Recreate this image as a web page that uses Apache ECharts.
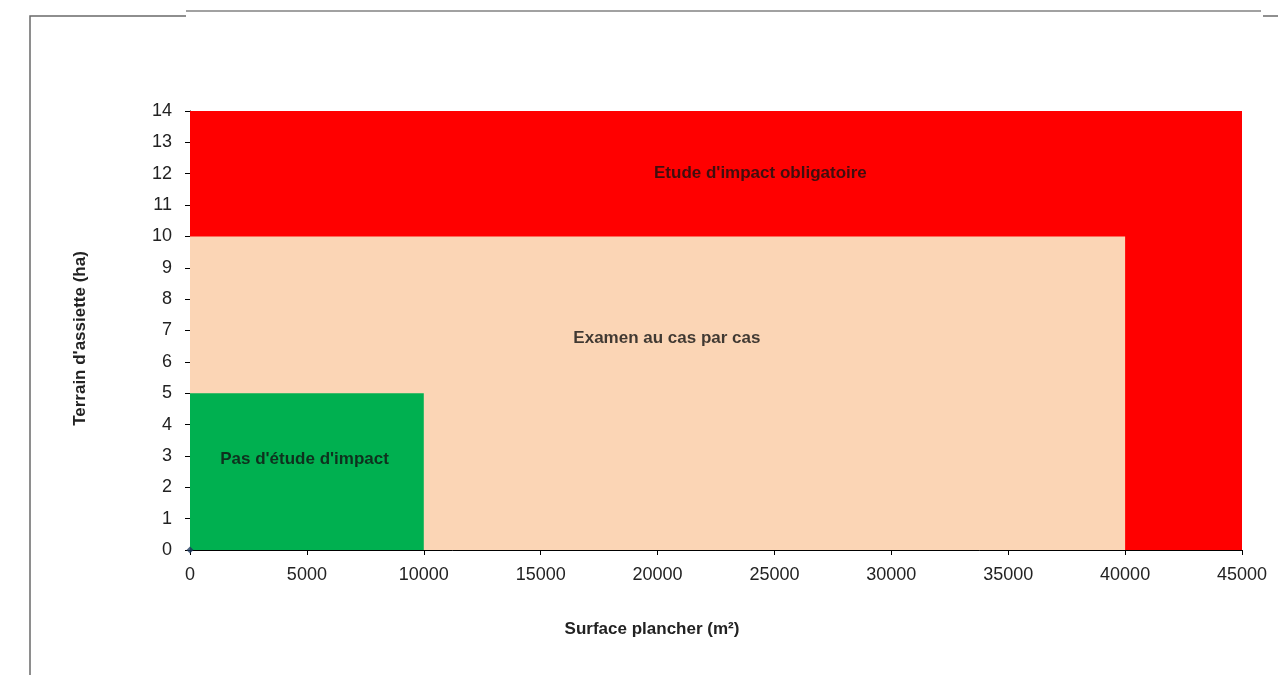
<!DOCTYPE html>
<html>
<head>
<meta charset="utf-8">
<script src="https://cdn.jsdelivr.net/npm/echarts@6/dist/echarts.min.js"></script>
<style>
  html, body { margin: 0; padding: 0; background: #ffffff; }
  #chart { width: 1278px; height: 675px; }
</style>
</head>
<body>
<div id="chart"></div>
<script>
// Zones: [surface min, surface max, terrain min, terrain max]
const zoneNames = ["Etude d'impact obligatoire", "Examen au cas par cas", "Pas d'étude d'impact"];
const zoneSurface = [[0, 45000], [0, 40000], [0, 10000]];
const zoneTerrain = [[0, 14], [0, 10], [0, 5]];
const zoneColors = ['#ff0000', '#fbd5b5', '#00b050'];
// Where each zone's caption sits (surface, terrain)
const labelSurface = [24400, 20400, 4900];
const labelTerrain = [12, 6.75, 2.9];

const xTicks = [0, 5000, 10000, 15000, 20000, 25000, 30000, 35000, 40000, 45000];
const yTicks = [0, 1, 2, 3, 4, 5, 6, 7, 8, 9, 10, 11, 12, 13, 14];

const zoneData = zoneNames.map((n, i) => ({
  value: [zoneSurface[i][0], zoneSurface[i][1], zoneTerrain[i][0], zoneTerrain[i][1]]
}));
const captionData = zoneNames.map((n, i) => ({ name: n, value: [labelSurface[i], labelTerrain[i]] }));

const FONT = 'Liberation Sans, Arial, sans-serif';

const chart = echarts.init(document.getElementById('chart'), null, { renderer: 'canvas' });
chart.setOption({
  animation: false,
  backgroundColor: '#ffffff',
  grid: { left: 190, right: 36, top: 111, bottom: 125 },
  graphic: [
    { type: 'polyline', shape: { points: [[30, 675], [30, 16], [186, 16]] }, style: { stroke: '#6a6a6a', lineWidth: 1.5, fill: null } },
    { type: 'line', shape: { x1: 186, y1: 11, x2: 1261, y2: 11 }, style: { stroke: '#444', lineWidth: 1.2 } },
    { type: 'line', shape: { x1: 1263, y1: 16, x2: 1278, y2: 16 }, style: { stroke: '#6a6a6a', lineWidth: 1.5 } }
  ],
  xAxis: {
    type: 'value', min: xTicks[0], max: xTicks[xTicks.length - 1], interval: 5000,
    name: 'Surface plancher (m²)', nameLocation: 'middle', nameGap: 71,
    nameTextStyle: { fontFamily: FONT, fontWeight: 'bold', fontSize: 17, color: '#222', padding: [0, 128, 0, 0] },
    axisLine: { show: true, lineStyle: { color: '#000', width: 1 } },
    axisTick: { show: true, inside: false, length: 5, lineStyle: { color: '#000' } },
    axisLabel: { fontFamily: FONT, fontSize: 18, color: '#222', margin: 16, formatter: v => String(v) },
    splitLine: { show: false }
  },
  yAxis: {
    type: 'value', min: yTicks[0], max: yTicks[yTicks.length - 1], interval: 1,
    name: "Terrain d'assiette (ha)", nameLocation: 'middle', nameGap: 101, nameRotate: 90,
    nameTextStyle: { fontFamily: FONT, fontWeight: 'bold', fontSize: 17, color: '#222', padding: [0, 16, 0, 0] },
    axisLine: { show: true, lineStyle: { color: '#000', width: 1 } },
    axisTick: { show: true, length: 5, lineStyle: { color: '#000' } },
    axisLabel: { fontFamily: FONT, fontSize: 18, color: '#222', margin: 18 },
    splitLine: { show: false }
  },
  series: [
    {
      type: 'custom',
      data: zoneData,
      encode: { x: [0, 1], y: [2, 3] },
      renderItem: function (params, api) {
        const p0 = api.coord([api.value(0), api.value(3)]);
        const p1 = api.coord([api.value(1), api.value(2)]);
        return {
          type: 'rect',
          shape: { x: p0[0], y: p0[1], width: p1[0] - p0[0], height: p1[1] - p0[1] },
          style: { fill: zoneColors[params.dataIndex] }
        };
      },
      z: 1
    },
    {
      type: 'scatter',
      data: captionData,
      symbolSize: 0,
      label: {
        show: true, position: 'inside', formatter: '{b}',
        fontFamily: FONT, fontWeight: 'bold', fontSize: 17, color: '#111'
      },
      z: 3
    },
    {
      type: 'scatter',
      data: [[0, 0]],
      symbol: 'diamond', symbolSize: 7,
      itemStyle: { color: '#1f3a5f' },
      z: 4
    }
  ]
});
</script>
</body>
</html>
